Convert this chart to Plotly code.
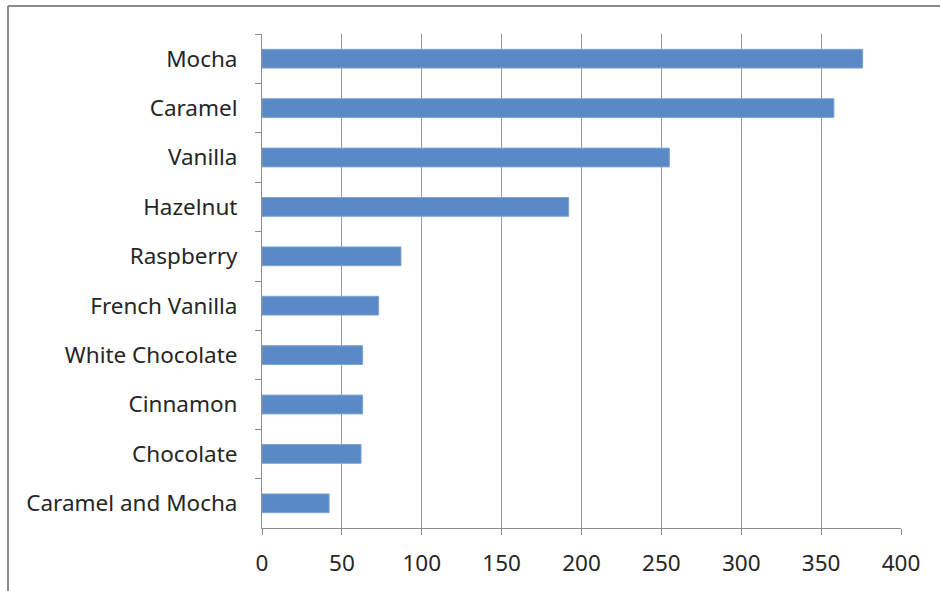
import plotly.graph_objects as go

flavors = ["Mocha", "Caramel", "Vanilla", "Hazelnut", "Raspberry", "French Vanilla",
           "White Chocolate", "Cinnamon", "Chocolate", "Caramel and Mocha"]
counts = [376, 358, 255, 192, 87, 73, 63, 63, 62, 42]
x_ticks = [0, 50, 100, 150, 200, 250, 300, 350, 400]

font = dict(family="Noto Sans", size=22.5, color="#262626")
axis_gray = "#8c8c8c"

fig = go.Figure(go.Bar(
    x=counts, y=flavors, orientation="h",
    marker=dict(color="#5A8AC6", line=dict(width=1, color="#7FA3D4")),
    width=0.38,
))

fig.update_layout(
    width=940, height=591,
    margin=dict(l=262, r=39, t=34, b=63),
    paper_bgcolor="white", plot_bgcolor="white",
    showlegend=False,
    font=font,
    xaxis=dict(
        range=[0, 400], tickvals=x_ticks, ticktext=[str(v) for v in x_ticks],
        showgrid=True, gridcolor="#9a9a9a", gridwidth=1.3,
        showline=True, linecolor=axis_gray, linewidth=1,
        ticks="outside", ticklen=6, tickcolor=axis_gray,
        ticklabelstandoff=9, zeroline=False, fixedrange=True,
    ),
    yaxis=dict(
        type="category", categoryorder="array", categoryarray=flavors,
        range=[9.5, -0.5],
        showgrid=False, showline=True, linecolor=axis_gray, linewidth=1,
        ticks="outside", ticklen=6, tickcolor=axis_gray, tickson="boundaries",
        ticklabelstandoff=19, zeroline=False, fixedrange=True,
    ),
    shapes=[
        dict(type="line", xref="paper", yref="paper",
             x0=(8 - 262) / 639, x1=1.2, y0=1 + (34 - 6) / 494, y1=1 + (34 - 6) / 494,
             line=dict(color="#8a8a8a", width=2)),
        dict(type="line", xref="paper", yref="paper",
             x0=(8 - 262) / 639, x1=(8 - 262) / 639, y0=1 + (34 - 6) / 494, y1=-0.3,
             line=dict(color="#8a8a8a", width=2)),
    ],
)

fig.write_html("out.html")
